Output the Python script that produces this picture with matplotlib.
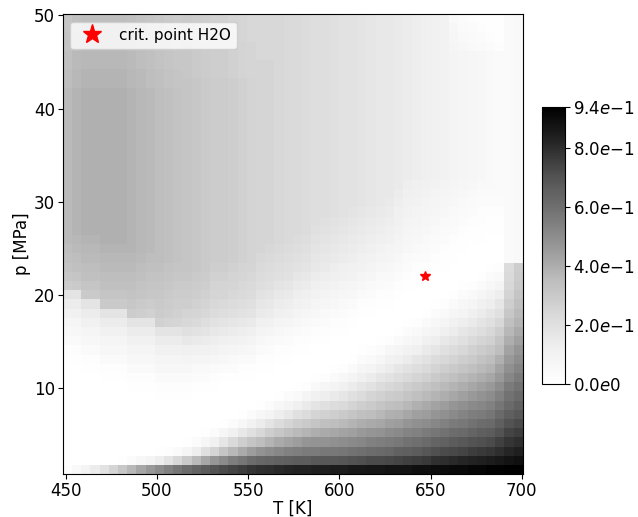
import numpy as np
import matplotlib.pyplot as plt

# grid edges of the T-p raster
T_edges = np.linspace(448.4, 700.5, 51)   # K
p_edges = np.linspace(0.78, 50.14, 51)    # MPa

# critical point of water
T_crit = 647.096
p_crit = 22.064

# field values in hundredths, one list per temperature column (low p -> high p)
cols = [
    [2] + [0]*11 + [1, 2, 4, 6, 8, 11, 14, 18] + [29, 31, 33, 34, 35] + [36]*15 + [36, 36, 35, 35, 34, 34, 33, 33, 32, 32],
    [5] + [0]*11 + [1, 2, 4, 6, 8, 11, 14, 18] + [30, 32, 34, 35, 36, 37] + [38]*14 + [38, 38, 37, 37, 36, 36, 35, 35, 34, 34],
    [9] + [0]*10 + [1, 2, 4, 6, 8, 11, 14, 18] + [30, 32, 34, 35, 36, 37, 38] + [39]*14 + [39, 39, 38, 38, 37, 37, 36, 36, 35, 35],
    [14] + [0]*10 + [1, 2, 4, 6, 8, 11, 14, 18] + [30, 32, 34, 35, 36, 37, 38] + [39]*14 + [39, 39, 38, 38, 37, 37, 36, 36, 35, 35],
    [19] + [0]*9 + [1, 2, 4, 6, 8, 11, 14, 18] + [30, 32, 34, 35, 36, 37, 38] + [39]*15 + [39, 39, 38, 38, 37, 37, 36, 36, 35, 35],
    [25] + [0]*9 + [1, 2, 4, 6, 8, 11, 14, 18] + [30, 32, 34, 35, 36, 37, 38] + [39]*15 + [39, 39, 38, 38, 37, 37, 36, 36, 35, 35],
    [31, 1] + [0]*8 + [1, 2, 4, 6, 8, 11, 14, 18] + [30, 32, 34, 35, 36, 37, 38] + [39]*15 + [39, 39, 38, 38, 37, 37, 36, 36, 35, 35],
    [37, 3] + [0]*7 + [1, 2, 4, 6, 8, 11, 14, 18] + [29, 31, 33, 34, 35, 36, 37] + [38]*16 + [38, 38, 37, 37, 36, 36, 35, 35, 34, 34],
    [42, 6] + [0]*7 + [1, 2, 4, 6, 8, 11, 14, 18] + [28, 30, 32, 33, 34, 35, 36] + [37]*16 + [37, 37, 36, 36, 35, 35, 34, 34, 33, 33],
    [46, 9] + [0]*7 + [1, 2, 4, 6, 8, 11, 14, 18] + [27, 29, 31, 32, 33, 34, 35] + [36]*16 + [36, 36, 35, 35, 34, 34, 33, 33, 32, 32],
    [50, 13, 1] + [0]*5 + [1, 2, 4, 6, 8, 11, 14, 18] + [27, 29, 30, 31, 32, 33, 34] + [35]*17 + [35, 35, 34, 34, 33, 33, 32, 32, 31, 31],
    [54, 18, 2] + [0]*5 + [1, 2, 4, 6, 8, 11, 14, 18] + [26, 28, 29, 30, 31, 32, 33] + [34]*17 + [34, 34, 33, 33, 32, 32, 31, 31, 30, 30],
    [58, 24, 4] + [0]*5 + [1, 2, 4, 6, 8, 11, 14, 18] + [25, 27, 28, 29, 30, 31, 32] + [33]*17 + [33, 33, 32, 32, 31, 31, 30, 30, 29, 29],
    [61, 30, 8, 1] + [0]*4 + [1, 2, 4, 6, 9, 12, 16, 20] + [24, 26, 28, 29, 30, 31] + [32]*21 + [31, 31, 31, 31, 30, 30, 30],
    [64, 36, 13, 3] + [0]*5 + [1, 3, 5, 8, 11, 15, 19] + [23, 25, 27, 28, 29, 30] + [31]*21 + [30, 30, 30, 30, 29, 29, 29],
    [67, 42, 20, 7, 1] + [0]*4 + [1, 3, 5, 8, 11, 14, 18] + [21, 24, 26, 27, 28, 29] + [30]*21 + [29, 29, 29, 29, 28, 28, 28],
    [70, 47, 26, 11, 3] + [0]*4 + [1, 2, 4, 7, 10, 13, 16, 19, 22, 24, 25, 26, 27, 28] + [29]*20 + [28, 28, 28, 28, 27, 27, 27],
    [72, 51, 32, 17, 7, 1] + [0]*4 + [1, 3, 6, 9, 12, 15, 18, 21, 23, 25, 26, 27, 28] + [29]*20 + [28, 28, 28, 28, 27, 27, 27],
    [74, 55, 37, 23, 11, 3] + [0]*4 + [1, 3, 5, 8, 11, 14, 17, 20, 22, 24, 25, 26, 27] + [28]*20 + [27, 27, 27, 27, 26, 26, 26],
    [76, 58, 41, 28, 16, 6, 1] + [0]*3 + [1, 2, 4, 7, 10, 13, 16, 19, 21, 23, 24, 25, 26] + [27]*20 + [26, 26, 26, 26, 25, 25, 25],
    [78, 61, 45, 32, 20, 10, 3] + [0]*3 + [1, 2, 4, 6, 9, 12, 15, 18, 20, 22, 23, 24, 25] + [26]*20 + [25, 25, 25, 25, 24, 24, 24],
    [79, 63, 48, 35, 24, 14, 6, 1] + [0]*3 + [1, 2, 4, 6, 9, 12, 15, 17, 19, 21, 22, 23, 24] + [25]*19 + [25, 25, 24, 24, 24, 24, 24],
    [80, 64, 50, 38, 28, 18, 9, 3] + [0]*3 + [1, 2, 3, 5, 8, 11, 14, 16, 18, 20, 21, 22, 23, 24] + [25]*18 + [25, 25, 24, 24, 24, 24, 24],
    [81, 65, 52, 41, 31, 22, 13, 6, 1] + [0]*3 + [1, 2, 4, 6, 9, 12, 14, 16, 18, 20, 21, 22, 23] + [24]*25,
    [82, 66, 54, 43, 34, 25, 16, 9, 3] + [0]*3 + [1, 2, 3, 5, 8, 11, 13, 15, 17, 19, 20, 21, 22] + [23]*25,
    [83, 67, 55, 45, 36, 28, 20, 12, 5, 1] + [0]*3 + [1, 2, 4, 6, 9, 11, 13, 15, 17, 19, 20, 21, 22] + [23]*24,
    [83, 67, 56, 47, 38, 30, 22, 15, 8, 2] + [0]*3 + [1, 2, 3, 5, 7, 10, 12, 14, 16, 18, 19, 20, 21] + [22]*24,
    [84, 68, 56, 48, 40, 32, 25, 18, 11, 5, 1] + [0]*3 + [1, 2, 4, 6, 8, 10, 12, 14, 16, 17, 18, 19, 20] + [21]*23,
    [84, 68, 57, 48, 41, 34, 27, 20, 13, 7, 2] + [0]*3 + [1, 2, 3, 5, 7, 9, 11, 13, 15, 16, 17, 18, 19, 20] + [21]*22,
    [85, 68, 57, 49, 42, 35, 28, 22, 15, 9, 4, 1] + [0]*3 + [1, 2, 4, 6, 8, 10, 12, 13, 15, 16, 17, 18, 19] + [20]*22,
    [85, 69, 58, 50, 43, 36, 30, 23, 17, 11, 6, 2] + [0]*3 + [1, 2, 3, 5, 7, 9, 11, 12, 14, 15, 16, 17, 18] + [19]*22,
    [86, 70, 59, 51, 44, 38, 32, 26, 20, 14, 9, 4, 1] + [0]*3 + [1, 2, 4, 6, 8, 10, 11, 13, 14, 15, 16, 17, 18] + [19]*21,
    [86, 71, 60, 52, 46, 40, 34, 28, 22, 17, 12, 7, 3, 1] + [0]*3 + [1, 2, 4, 6, 8, 10, 11, 13, 14, 15, 16, 17] + [18]*21,
    [87, 72, 61, 54, 47, 41, 35, 30, 25, 19, 14, 9, 5, 2] + [0]*3 + [1, 2, 3, 5, 7, 9, 10, 12, 13, 14, 15, 16] + [17]*21,
    [87, 72, 62, 55, 48, 42, 37, 32, 27, 22, 17, 12, 7, 3, 1] + [0]*3 + [1, 2, 4, 5, 7, 9, 10, 12, 13, 14, 15] + [16]*21,
    [88, 73, 63, 56, 50, 44, 39, 34, 29, 24, 19, 14, 10, 6, 2] + [0]*3 + [1, 2, 3, 5, 6, 8, 9, 11, 12, 13, 14, 15] + [16]*20,
    [88, 74, 65, 57, 51, 45, 40, 35, 30, 26, 21, 17, 12, 8, 4, 1] + [0]*3 + [1, 2, 3, 5, 6, 8, 9, 10, 11, 12, 13, 14] + [15]*19,
    [88, 75, 66, 59, 53, 47, 42, 37, 32, 28, 23, 19, 14, 10, 6, 3, 1] + [0]*3 + [1, 2, 3, 4, 6, 7, 8, 9, 10, 11, 12, 13] + [14]*18,
    [89, 76, 67, 60, 54, 49, 44, 39, 34, 30, 25, 21, 17, 12, 8, 5, 2] + [0]*3 + [1, 1, 2, 3, 5, 6, 7, 8, 9, 10, 11, 12] + [13]*18,
    [89, 77, 69, 62, 56, 50, 45, 41, 36, 32, 27, 23, 19, 15, 11, 7, 4, 1] + [0]*3 + [1, 2, 3, 4, 5, 6, 7, 8, 9, 10, 11] + [12]*18,
    [90, 79, 71, 64, 58, 52, 47, 43, 38, 34, 30, 26, 22, 17, 13, 9, 6, 3, 1] + [0]*3 + [1, 2, 3, 4, 5, 6, 7, 8, 9, 10] + [11]*18,
    [90, 80, 72, 65, 59, 54, 49, 45, 40, 36, 32, 28, 24, 20, 16, 12, 8, 5, 2] + [0]*3 + [1, 1, 2, 3, 4, 5, 6, 7, 8, 9] + [10]*18,
    [91, 81, 73, 67, 61, 56, 51, 47, 42, 38, 34, 30, 26, 22, 18, 14, 11, 7, 4, 1] + [0]*3 + [1, 1, 2, 3, 4, 5, 6, 7, 8] + [9]*14 + [8, 7, 6, 5],
    [91, 82, 74, 68, 62, 57, 53, 49, 44, 40, 36, 32, 28, 24, 20, 17, 13, 9, 6, 3, 1] + [0]*3 + [1, 1, 2, 3, 4, 5, 6, 7] + [8]*14 + [6, 5, 4, 3],
    [92, 83, 76, 70, 64, 59, 55, 51, 46, 42, 38, 34, 30, 27, 23, 19, 15, 12, 8, 5, 2] + [0]*4 + [1, 1, 2, 3, 4, 5, 6] + [7]*14 + [5, 4, 3, 2],
    [92, 84, 77, 71, 66, 61, 56, 52, 48, 44, 40, 36, 33, 29, 25, 21, 18, 14, 11, 7, 4, 1] + [0]*3 + [1, 1, 2, 2, 3, 4, 5] + [6]*14 + [4, 3, 2, 1],
    [93, 85, 78, 72, 67, 62, 58, 54, 50, 46, 42, 38, 35, 31, 27, 24, 20, 17, 13, 10, 6, 3, 1] + [0]*3 + [1, 1, 2, 3, 4] + [5]*15 + [3, 2, 1, 1],
    [93, 86, 80, 75, 70, 66, 62, 58, 54, 50, 46, 43, 39, 35, 32, 28, 24, 20, 17, 13, 9, 5, 2] + [0]*3 + [1, 1, 2, 3] + [4]*16 + [2, 1, 1, 1],
    [94, 88, 82, 78, 74, 70, 66, 62, 59, 56, 52, 49, 46, 43, 40, 37, 34, 31, 28, 26, 24, 23, 22] + [4]*27,
    [94, 89, 84, 80, 76, 72, 68, 65, 62, 59, 56, 53, 50, 47, 44, 41, 38, 36, 34, 32, 30, 29, 28] + [5]*27,
]
assert len(cols) == 50 and all(len(c) == 50 for c in cols)

Z = np.array(cols, dtype=float).T / 100.0

cbar_ticks = [0.0, 0.2, 0.4, 0.6, 0.8, 0.94]
cbar_labels = ["$0.0e0$", "$2.0e{-1}$", "$4.0e{-1}$", "$6.0e{-1}$", "$8.0e{-1}$", "$9.4e{-1}$"]

fig = plt.figure(figsize=(6.38, 5.17), dpi=100)
ax = fig.add_axes([0.0983, 0.0826, 0.721, 0.8903])

mesh = ax.pcolormesh(T_edges, p_edges, Z, cmap="Greys", vmin=0, vmax=0.94)
ax.plot(T_crit, p_crit, "r*", markersize=7, label="crit. point H2O")
ax.legend(loc="upper left", markerscale=2, fontsize=11)

ax.set_xlim(T_edges[0], T_edges[-1])
ax.set_ylim(p_edges[0], p_edges[-1])
ax.set_xticks([450, 500, 550, 600, 650, 700])
ax.set_yticks([10, 20, 30, 40, 50])
ax.tick_params(labelsize=12, pad=2)
ax.set_xlabel("T [K]", fontsize=12, labelpad=0)
ax.set_ylabel("p [MPa]", fontsize=12, labelpad=2)

cax = fig.add_axes([0.849, 0.2573, 0.0365, 0.5358])
cb = fig.colorbar(mesh, cax=cax, ticks=cbar_ticks)
cb.ax.set_yticklabels(cbar_labels)
cb.ax.tick_params(labelsize=12, pad=2)

fig.savefig("out.png", dpi=100)
